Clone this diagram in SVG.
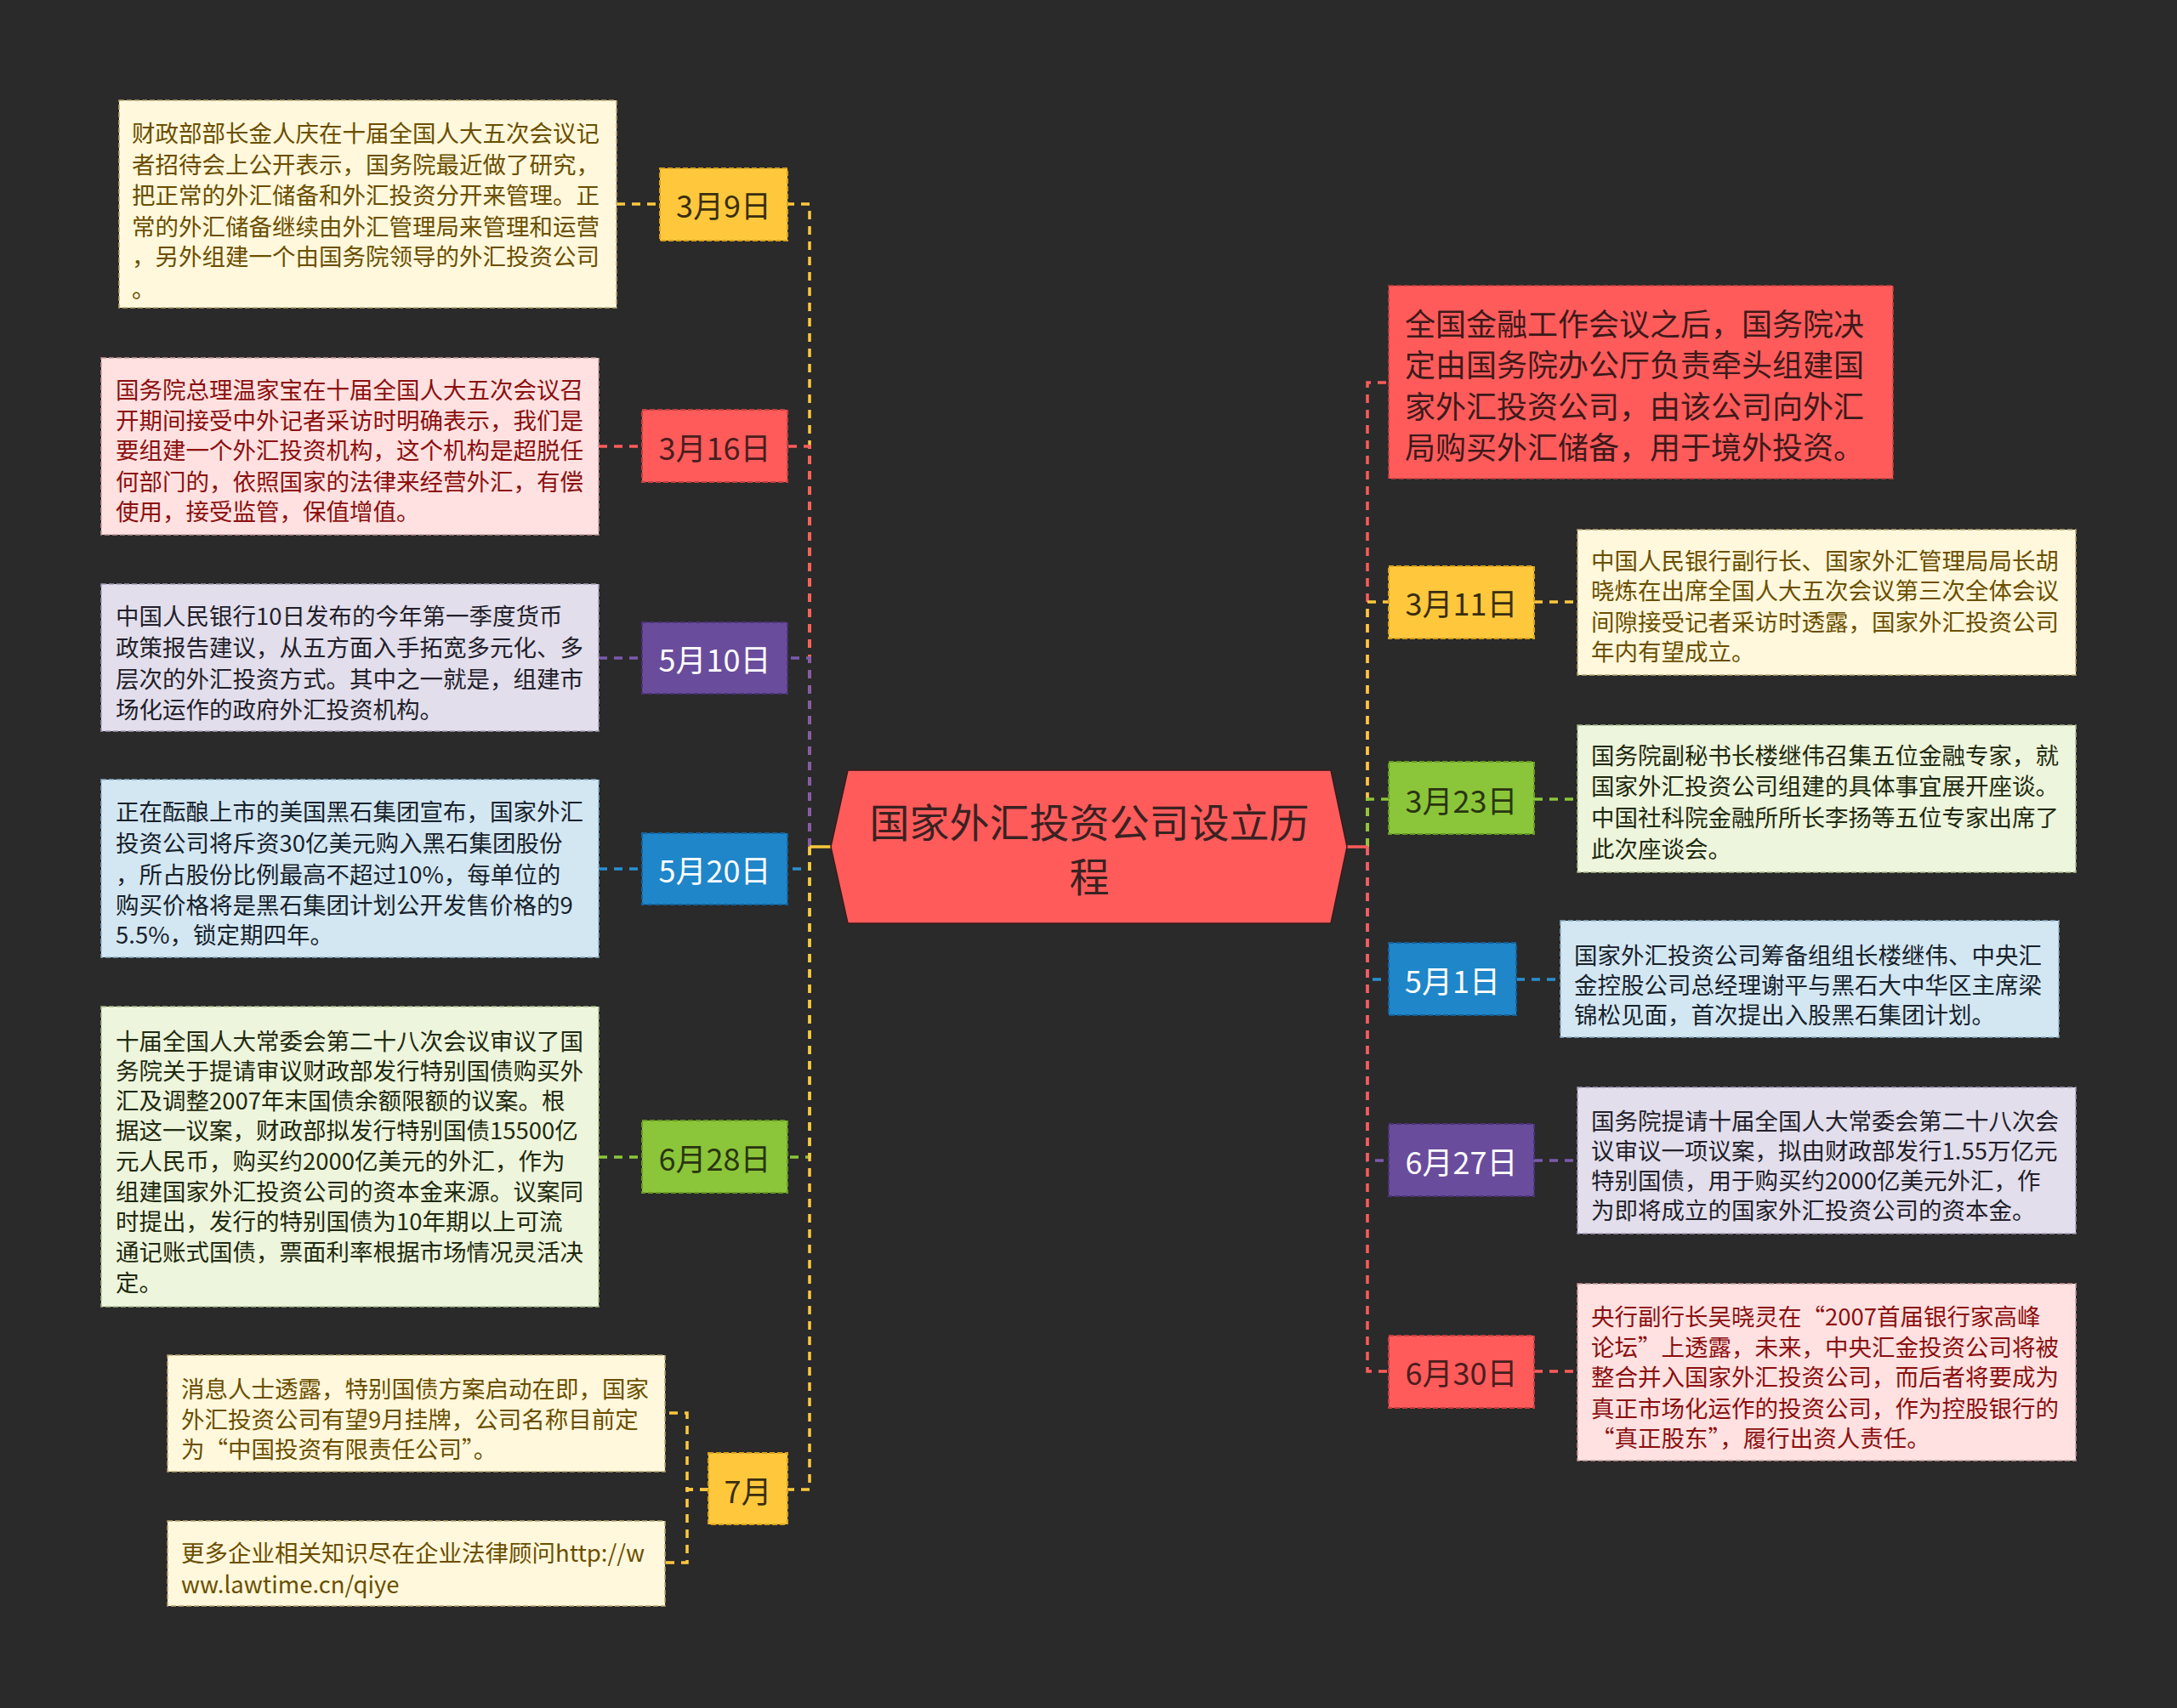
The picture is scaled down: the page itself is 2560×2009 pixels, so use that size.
<svg xmlns="http://www.w3.org/2000/svg" width="2560" height="2009" viewBox="0 0 2560 2009">
<style>
text{font-family:"Noto Sans CJK SC","Microsoft YaHei",sans-serif;dominant-baseline:central}
.conn path{fill:none;stroke-width:3.5;stroke-dasharray:10 8}
.conn .solid{stroke-dasharray:none}
.cy{stroke:#FFC83C}.cr{stroke:#FF5B5B}.cp{stroke:#7A5BAE}.cb{stroke:#2A8FD0}.cg{stroke:#8BC63A}
.date{font-size:36px;text-anchor:middle}
.nd{stroke-width:2;stroke-dasharray:6 3}
.ny{fill:#FFC83C;stroke:#D9A21E}.nr{fill:#FF5B5B;stroke:#C63E3E}.np{fill:#6A4C9C;stroke:#4B3378}.nb{fill:#1F86C9;stroke:#14629A}.ng{fill:#8BC63A;stroke:#679A22}
.ty{fill:#3A2E10}.tr{fill:#4A1E1E}.tw{fill:#FFFFFF}.tg{fill:#2A3510}
.box{stroke-width:1.5;stroke-dasharray:6 3}
.by{fill:#FFF8DC;stroke:#BBA772}.bp{fill:#FFE1E1;stroke:#C99A9A}.bl{fill:#E2DEEC;stroke:#A29AB5}.bb{fill:#D3E7F3;stroke:#8FB1C6}.bg{fill:#EDF5DC;stroke:#A9B98A}.bR{fill:#FF5B5B;stroke:#C63E3E}
.txt{font-size:27.5px}
.xy{fill:#6B4F00}.xp{fill:#8B1010}.xl{fill:#231F2A}.xb{fill:#17222B}.xg{fill:#1F2A10}.xR{fill:#3D1A1A;font-size:36px}
</style>
<rect x="0" y="0" width="2560" height="2009" fill="#2A2A2A"/>
<g id="connectors" class="conn">
<path class="cy" d="M952 996 V240 H926"/>
<path class="cr" d="M952 996 V525 H926"/>
<path class="cp" d="M952 996 V774 H926"/>
<path class="cb" d="M952 996 V1022 H926"/>
<path class="cg" d="M952 996 V1361 H926"/>
<path class="cy" d="M952 996 V1752 H926"/>
<path class="cy solid" d="M977 996 H952"/>
<path class="cy" d="M725 240 H776"/>
<path class="cr" d="M704 525 H755"/>
<path class="cp" d="M704 774 H755"/>
<path class="cb" d="M704 1022 H755"/>
<path class="cg" d="M704 1361 H755"/>
<path class="cy" d="M833 1752 H808 V1662 H782"/>
<path class="cy" d="M833 1752 H808 V1838 H782"/>
<path class="cr" d="M1608 996 V450 H1633"/>
<path class="cy" d="M1608 996 V708 H1633"/>
<path class="cg" d="M1608 996 V940 H1633"/>
<path class="cb" d="M1608 996 V1152 H1633"/>
<path class="cp" d="M1608 996 V1365 H1633"/>
<path class="cr" d="M1608 996 V1613 H1633"/>
<path class="cr solid" d="M1584 996 H1608"/>
<path class="cy" d="M1804 708 H1855"/>
<path class="cg" d="M1804 940 H1855"/>
<path class="cb" d="M1783 1152 H1835"/>
<path class="cp" d="M1804 1365 H1855"/>
<path class="cr" d="M1804 1613 H1855"/>
</g>
<g id="center">
<polygon points="997,906 1565,906 1584,996 1565,1086 997,1086 977,996" fill="#FF5B5B" stroke="#3A1A1A" stroke-width="1.5"/>
<text x="1281" y="964" font-size="47" text-anchor="middle" fill="#3A2222">国家外汇投资公司设立历</text>
<text x="1281" y="1028" font-size="47" text-anchor="middle" fill="#3A2222">程</text>
</g>
<g id="d0309"><rect class="nd ny" x="776" y="198" width="150" height="85"/><text class="date ty" x="851" y="240">3月9日</text></g>
<g id="d0316"><rect class="nd nr" x="755" y="482" width="171" height="85"/><text class="date tr" x="840.5" y="525">3月16日</text></g>
<g id="d0510"><rect class="nd np" x="755" y="732" width="171" height="84"/><text class="date tw" x="840.5" y="774">5月10日</text></g>
<g id="d0520"><rect class="nd nb" x="755" y="980" width="171" height="84"/><text class="date tw" x="840.5" y="1022">5月20日</text></g>
<g id="d0628"><rect class="nd ng" x="755" y="1318" width="171" height="85"/><text class="date tg" x="840.5" y="1361">6月28日</text></g>
<g id="d07"><rect class="nd ny" x="833" y="1709" width="93" height="84"/><text class="date ty" x="879.5" y="1752">7月</text></g>
<g id="d0311"><rect class="nd ny" x="1633" y="666" width="171" height="85"/><text class="date ty" x="1718.5" y="708">3月11日</text></g>
<g id="d0323"><rect class="nd ng" x="1633" y="896" width="171" height="85"/><text class="date tg" x="1718.5" y="940">3月23日</text></g>
<g id="d0501"><rect class="nd nb" x="1633" y="1109" width="150" height="85"/><text class="date tw" x="1708" y="1152">5月1日</text></g>
<g id="d0627"><rect class="nd np" x="1633" y="1322" width="171" height="85"/><text class="date tw" x="1718.5" y="1365">6月27日</text></g>
<g id="d0630"><rect class="nd nr" x="1633" y="1571" width="171" height="85"/><text class="date tr" x="1718.5" y="1613">6月30日</text></g>
<g id="t0309"><rect class="box by" x="140" y="118" width="585" height="244"/>
<text class="txt xy"><tspan x="155" y="155">财政部部长金人庆在十届全国人大五次会议记</tspan><tspan x="155" y="192">者招待会上公开表示，国务院最近做了研究，</tspan><tspan x="155" y="228">把正常的外汇储备和外汇投资分开来管理。正</tspan><tspan x="155" y="265">常的外汇储备继续由外汇管理局来管理和运营</tspan><tspan x="155" y="300">，另外组建一个由国务院领导的外汇投资公司</tspan><tspan x="155" y="338">。</tspan></text></g>
<g id="t0316"><rect class="box bp" x="119" y="421" width="585" height="208"/>
<text class="txt xp"><tspan x="136" y="457">国务院总理温家宝在十届全国人大五次会议召</tspan><tspan x="136" y="493">开期间接受中外记者采访时明确表示，我们是</tspan><tspan x="136" y="528">要组建一个外汇投资机构，这个机构是超脱任</tspan><tspan x="136" y="565">何部门的，依照国家的法律来经营外汇，有偿</tspan><tspan x="136" y="600">使用，接受监管，保值增值。</tspan></text></g>
<g id="t0510"><rect class="box bl" x="119" y="687" width="585" height="173"/>
<text class="txt xl"><tspan x="136" y="723">中国人民银行10日发布的今年第一季度货币</tspan><tspan x="136" y="760">政策报告建议，从五方面入手拓宽多元化、多</tspan><tspan x="136" y="797">层次的外汇投资方式。其中之一就是，组建市</tspan><tspan x="136" y="833">场化运作的政府外汇投资机构。</tspan></text></g>
<g id="t0520"><rect class="box bb" x="119" y="917" width="585" height="209"/>
<text class="txt xb"><tspan x="136" y="953">正在酝酿上市的美国黑石集团宣布，国家外汇</tspan><tspan x="136" y="990">投资公司将斥资30亿美元购入黑石集团股份</tspan><tspan x="136" y="1027">，所占股份比例最高不超过10%，每单位的</tspan><tspan x="136" y="1063">购买价格将是黑石集团计划公开发售价格的9</tspan><tspan x="136" y="1098">5.5%，锁定期四年。</tspan></text></g>
<g id="t0628"><rect class="box bg" x="119" y="1184" width="585" height="353"/>
<text class="txt xg"><tspan x="136" y="1223">十届全国人大常委会第二十八次会议审议了国</tspan><tspan x="136" y="1258">务院关于提请审议财政部发行特别国债购买外</tspan><tspan x="136" y="1293">汇及调整2007年末国债余额限额的议案。根</tspan><tspan x="136" y="1328">据这一议案，财政部拟发行特别国债15500亿</tspan><tspan x="136" y="1364">元人民币，购买约2000亿美元的外汇，作为</tspan><tspan x="136" y="1400">组建国家外汇投资公司的资本金来源。议案同</tspan><tspan x="136" y="1435">时提出，发行的特别国债为10年期以上可流</tspan><tspan x="136" y="1471">通记账式国债，票面利率根据市场情况灵活决</tspan><tspan x="136" y="1507">定。</tspan></text></g>
<g id="t07a"><rect class="box by" x="197" y="1594" width="585" height="137"/>
<text class="txt xy"><tspan x="213" y="1632">消息人士透露，特别国债方案启动在即，国家</tspan><tspan x="213" y="1668">外汇投资公司有望9月挂牌，公司名称目前定</tspan><tspan x="213" y="1703">为“中国投资有限责任公司”。</tspan></text></g>
<g id="t07b"><rect class="box by" x="197" y="1789" width="585" height="100"/>
<text class="txt xy"><tspan x="213" y="1825">更多企业相关知识尽在企业法律顾问http://w</tspan><tspan x="213" y="1862">ww.lawtime.cn/qiye</tspan></text></g>
<g id="tR0"><rect class="box bR" x="1633" y="336" width="593" height="227"/>
<text class="xR"><tspan x="1652" y="379">全国金融工作会议之后，国务院决</tspan><tspan x="1652" y="427">定由国务院办公厅负责牵头组建国</tspan><tspan x="1652" y="476">家外汇投资公司，由该公司向外汇</tspan><tspan x="1652" y="524">局购买外汇储备，用于境外投资。</tspan></text></g>
<g id="t0311"><rect class="box by" x="1855" y="623" width="586" height="171"/>
<text class="txt xy"><tspan x="1871" y="658">中国人民银行副行长、国家外汇管理局局长胡</tspan><tspan x="1871" y="693">晓炼在出席全国人大五次会议第三次全体会议</tspan><tspan x="1871" y="730">间隙接受记者采访时透露，国家外汇投资公司</tspan><tspan x="1871" y="765">年内有望成立。</tspan></text></g>
<g id="t0323"><rect class="box bg" x="1855" y="853" width="586" height="173"/>
<text class="txt xg"><tspan x="1871" y="887">国务院副秘书长楼继伟召集五位金融专家，就</tspan><tspan x="1871" y="923">国家外汇投资公司组建的具体事宜展开座谈。</tspan><tspan x="1871" y="960">中国社科院金融所所长李扬等五位专家出席了</tspan><tspan x="1871" y="997">此次座谈会。</tspan></text></g>
<g id="t0501"><rect class="box bb" x="1835" y="1083" width="586" height="137"/>
<text class="txt xb"><tspan x="1851" y="1122">国家外汇投资公司筹备组组长楼继伟、中央汇</tspan><tspan x="1851" y="1157">金控股公司总经理谢平与黑石大中华区主席梁</tspan><tspan x="1851" y="1192">锦松见面，首次提出入股黑石集团计划。</tspan></text></g>
<g id="t0627"><rect class="box bl" x="1855" y="1279" width="586" height="172"/>
<text class="txt xl"><tspan x="1871" y="1317">国务院提请十届全国人大常委会第二十八次会</tspan><tspan x="1871" y="1352">议审议一项议案，拟由财政部发行1.55万亿元</tspan><tspan x="1871" y="1387">特别国债，用于购买约2000亿美元外汇，作</tspan><tspan x="1871" y="1422">为即将成立的国家外汇投资公司的资本金。</tspan></text></g>
<g id="t0630"><rect class="box bp" x="1855" y="1510" width="586" height="208"/>
<text class="txt xp"><tspan x="1871" y="1547">央行副行长吴晓灵在“2007首届银行家高峰</tspan><tspan x="1871" y="1583">论坛”上透露，未来，中央汇金投资公司将被</tspan><tspan x="1871" y="1618">整合并入国家外汇投资公司，而后者将要成为</tspan><tspan x="1871" y="1655">真正市场化运作的投资公司，作为控股银行的</tspan><tspan x="1871" y="1690">“真正股东”，履行出资人责任。</tspan></text></g>
</svg>
